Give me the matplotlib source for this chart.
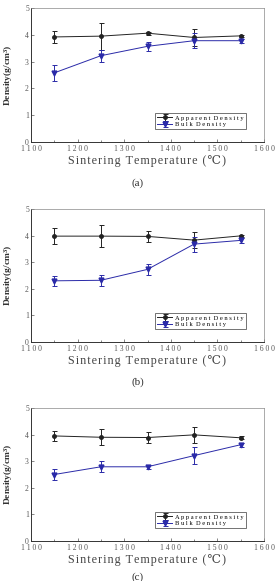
import matplotlib
matplotlib.use("Agg")
import matplotlib.pyplot as plt
from matplotlib.ticker import MultipleLocator

temps = [1150, 1250, 1350, 1450, 1550]

# panel (a)
app_a = [3.92, 3.95, 4.06, 3.90, 3.96]
app_a_err = [0.21, 0.50, 0.06, 0.30, 0.05]
bulk_a = [2.58, 3.22, 3.57, 3.78, 3.78]
bulk_a_err = [0.30, 0.22, 0.18, 0.27, 0.07]

# panel (b)
app_b = [3.98, 3.98, 3.97, 3.83, 3.99]
app_b_err = [0.30, 0.40, 0.20, 0.30, 0.05]
bulk_b = [2.30, 2.32, 2.73, 3.68, 3.82]
bulk_b_err = [0.20, 0.20, 0.20, 0.28, 0.08]

# panel (c)
app_c = [3.95, 3.90, 3.89, 3.99, 3.88]
app_c_err = [0.20, 0.30, 0.20, 0.30, 0.06]
bulk_c = [2.50, 2.79, 2.79, 3.21, 3.62]
bulk_c_err = [0.22, 0.20, 0.08, 0.32, 0.07]

panels = [("(a)", app_a, app_a_err, bulk_a, bulk_a_err),
          ("(b)", app_b, app_b_err, bulk_b, bulk_b_err),
          ("(c)", app_c, app_c_err, bulk_c, bulk_c_err)]

xticks = [1100, 1200, 1300, 1400, 1500, 1600]
yticks = [0, 1, 2, 3, 4, 5]

plt.rcParams['font.family'] = ['Liberation Serif', 'DejaVu Serif', 'DejaVu Sans']
plt.rcParams['mathtext.fontset'] = 'custom'
plt.rcParams['mathtext.rm'] = 'Liberation Serif'
plt.rcParams['mathtext.it'] = 'Liberation Serif:italic'

W, H = 277, 581
fig = plt.figure(figsize=(W / 100, H / 100), dpi=100)

# axes pixel boxes: top, bottom
boxes = [(8, 142), (209, 342), (408, 541)]
caption_y = [183, 382, 577]
blue = '#2a2aa8'

# slightly letter-spaced x label like the original scan
xlabel = "\u200a".join("Sintering Temperature (℃)")

for (cap, app, app_err, bulk, bulk_err), (top, bot), cy in zip(panels, boxes, caption_y):
    ax = fig.add_axes([31 / W, 1 - bot / H, 233 / W, (bot - top) / H])
    ax.errorbar(temps, app, yerr=app_err, color='#222222', marker='o', ms=2.5,
                lw=0.7, elinewidth=0.7, capsize=1.8, capthick=0.7,
                label='A p p a r e n t  D e n s i t y')
    ax.errorbar(temps, bulk, yerr=bulk_err, color=blue, marker='v', ms=3.5,
                lw=0.7, elinewidth=0.7, capsize=1.8, capthick=0.7,
                ecolor=blue, label='B u l k  D e n s i t y')
    ax.set_xlim(1100, 1600)
    ax.set_ylim(0, 5)
    ax.set_xticks(xticks)
    ax.set_yticks(yticks)
    ax.xaxis.set_minor_locator(MultipleLocator(50))
    ax.set_xticklabels([" ".join(str(t)) for t in xticks])
    ax.tick_params(direction='in', length=2, width=0.5, labelsize=5.5,
                   colors='#555555', pad=1.5)
    ax.tick_params(axis='x', pad=2.5)
    ax.tick_params(which='minor', direction='in', length=1.3, width=0.5,
                   colors='#555555')
    for side, s in ax.spines.items():
        s.set_color('#333333' if side in ('left', 'bottom') else '#888888')
        s.set_linewidth(0.7 if side in ('left', 'bottom') else 0.5)
    ax.set_xlabel(xlabel, fontsize=8.7, color='#444444', labelpad=1)
    ax.set_ylabel(r"Density($\mathregular{g/cm^3}$)", fontsize=6.8, fontweight='bold',
                  color='#333333', labelpad=7)
    leg = ax.legend(loc='lower right', fontsize=4.7, frameon=True, fancybox=False,
                    edgecolor='#333333', handlelength=2.2, borderpad=0.3,
                    labelspacing=0.2, handletextpad=0.5,
                    bbox_to_anchor=(0.935, 0.07))
    leg.get_frame().set_linewidth(0.6)
    fig.text(138 / W, 1 - cy / H, cap, ha='center', va='center', fontsize=8,
             color='#333333')

fig.savefig("out.png", dpi=100)
